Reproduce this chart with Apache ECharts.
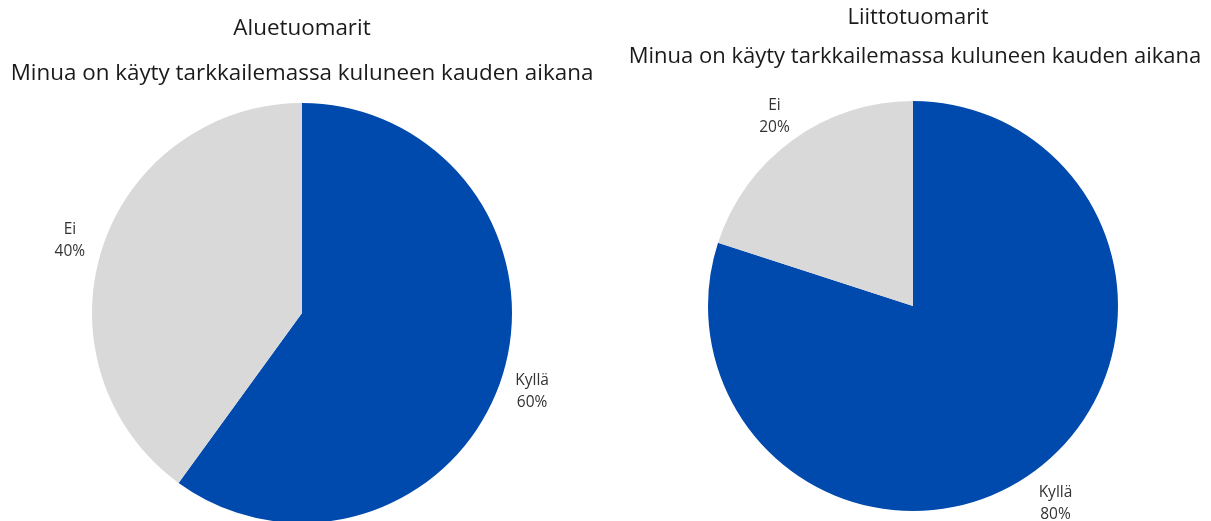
<!DOCTYPE html>
<html>
<head>
<meta charset="utf-8">
<script src="https://cdn.jsdelivr.net/npm/echarts@6/dist/echarts.min.js"></script>
<style>
  html, body { margin: 0; padding: 0; background: #fff; }
  #chart { width: 1211px; height: 521px; }
</style>
</head>
<body>
<div id="chart"></div>
<script>
var categories = ['Kyllä', 'Ei'];
var aluetuomarit = [60, 40];
var liittotuomarit = [80, 20];
var colors = ['#004AAD', '#D9D9D9'];

function toData(values, withColor) {
  var out = [];
  for (var i = 0; i < categories.length; i++) {
    out.push({
      name: categories[i],
      value: values[i],
      itemStyle: { color: withColor ? colors[i] : 'rgba(0,0,0,0)' }
    });
  }
  return out;
}

var myChart = echarts.init(document.getElementById('chart'));

var font = '"Open Sans", "Noto Sans", sans-serif';
var titleStyle = { fontFamily: font, fontSize: 22, fontWeight: 'normal', color: '#1a1a1a' };
var titleStyleL = { fontFamily: font, fontSize: 22.4, fontWeight: 'normal', color: '#1a1a1a' };

// labels sit in a transparent ring just outside each pie, centred
function ringLabel(offset) {
  return {
    show: true,
    position: 'inside',
    fontFamily: font,
    fontSize: 15.5,
    lineHeight: 22,
    align: 'center',
    color: '#333',
    offset: offset,
    formatter: function (p) { return p.name + '\n' + p.value + '%'; }
  };
}

option = {
  animation: false,
  title: [
    { text: 'Aluetuomarit', left: 302, top: 18, padding: 0, textAlign: 'center', textStyle: titleStyleL },
    { text: 'Minua on käyty tarkkailemassa kuluneen kauden aikana', left: 302, top: 63, padding: 0, textAlign: 'center', textStyle: titleStyleL },
    { text: 'Liittotuomarit', left: 918, top: 7, padding: 0, textAlign: 'center', textStyle: titleStyle },
    { text: 'Minua on käyty tarkkailemassa kuluneen kauden aikana', left: 915, top: 46, padding: 0, textAlign: 'center', textStyle: titleStyle }
  ],
  series: [
    {
      name: 'Aluetuomarit',
      type: 'pie',
      center: [302, 313],
      radius: 210,
      startAngle: 90,
      label: { show: false },
      labelLine: { show: false },
      emphasis: { disabled: true },
      data: toData(aluetuomarit, true)
    },
    {
      name: 'Aluetuomarit labels',
      type: 'pie',
      center: [302, 313],
      radius: [210, 270],
      startAngle: 90,
      silent: true,
      label: ringLabel([-1, 3]),
      labelLine: { show: false },
      emphasis: { disabled: true },
      data: toData(aluetuomarit, false)
    },
    {
      name: 'Liittotuomarit',
      type: 'pie',
      center: [913, 306],
      radius: 205,
      startAngle: 90,
      label: { show: false },
      labelLine: { show: false },
      emphasis: { disabled: true },
      data: toData(liittotuomarit, true)
    },
    {
      name: 'Liittotuomarit labels',
      type: 'pie',
      center: [913, 306],
      radius: [205, 267],
      startAngle: 90,
      silent: true,
      label: ringLabel([2, 4]),
      labelLine: { show: false },
      emphasis: { disabled: true },
      data: toData(liittotuomarit, false)
    }
  ]
};

myChart.setOption(option, true);
</script>
</body>
</html>
